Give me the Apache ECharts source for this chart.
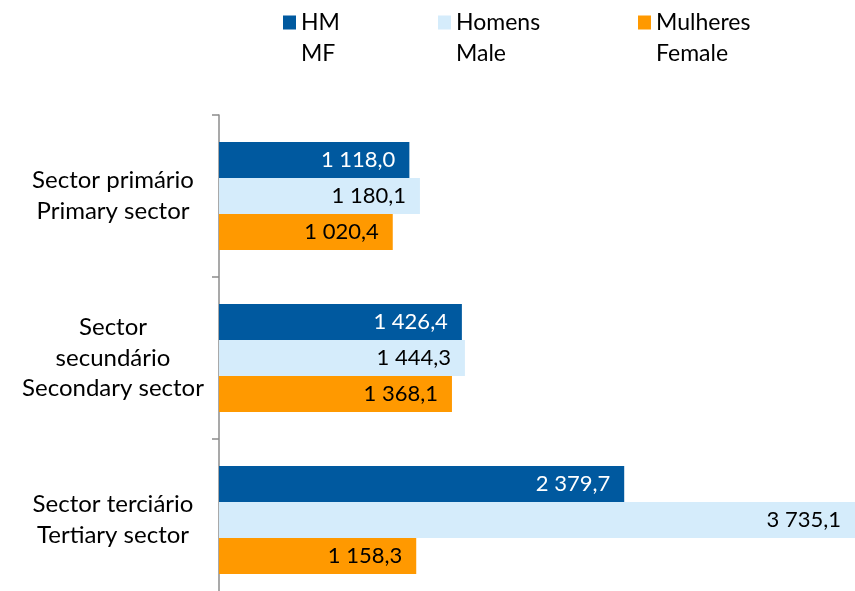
<!DOCTYPE html>
<html>
<head>
<meta charset="utf-8">
<script src="https://cdn.jsdelivr.net/npm/echarts@6/dist/echarts.min.js"></script>
<style>
html,body{margin:0;padding:0;background:#fff;}
#chart{width:855px;height:591px;}
</style>
</head>
<body>
<div id="chart"></div>
<script>
var categories = ['Sector primário\nPrimary sector', 'Sector\nsecundário\nSecondary sector', 'Sector terciário\nTertiary sector'];
var seriesNames = ['HM\nMF', 'Homens\nMale', 'Mulheres\nFemale'];
var hmValues = [1118.0, 1426.4, 2379.7];
var homensValues = [1180.1, 1444.3, 3735.1];
var mulheresValues = [1020.4, 1368.1, 1158.3];
var colors = ['#00599F', '#D5ECFB', '#FF9900'];
var labelColors = ['#ffffff', '#000000', '#000000'];
var legendLefts = [283, 438, 638];

var FONT = 'Lato';

function fmt(v) {
  var s = v.toFixed(1).split('.');
  var intPart = s[0].replace(/\B(?=(\d{3})+(?!\d))/g, ' ');
  return intPart + ',' + s[1];
}

var allValues = [hmValues, homensValues, mulheresValues];

var chart = echarts.init(document.getElementById('chart'));

// square icon at the top of a taller (transparent) box, so it lines up with the first text line
var legendIcon = 'path://M0,0H13V14H0Z M0,44.98L0.01,45L0,45Z';

var legends = seriesNames.map(function (name, i) {
  return {
    data: [name],
    left: legendLefts[i],
    top: 7,
    padding: 0,
    itemWidth: 13,
    itemHeight: 45,
    icon: legendIcon,
    selectedMode: false,
    textStyle: {
      fontFamily: FONT,
      fontSize: 23,
      lineHeight: 31,
      color: '#000'
    }
  };
});

var series = seriesNames.map(function (name, i) {
  return {
    name: name,
    type: 'bar',
    data: allValues[i],
    barGap: '0%',
    barCategoryGap: '33.3%',
    itemStyle: { color: colors[i] },
    label: {
      show: true,
      position: 'insideRight',
      distance: 14,
      color: labelColors[i],
      fontFamily: FONT,
      fontSize: 22,
      formatter: function (p) { return fmt(p.value); }
    },
    emphasis: { disabled: true }
  };
});

chart.setOption({
  animation: false,
  backgroundColor: '#ffffff',
  legend: legends,
  grid: { left: 219, right: 0, top: 115, height: 486, containLabel: false, outerBoundsMode: 'none' },
  xAxis: {
    type: 'value',
    min: 0,
    max: 3735.1,
    show: false
  },
  yAxis: {
    type: 'category',
    data: categories,
    inverse: true,
    axisLine: { show: true, lineStyle: { color: '#8c8c8c', width: 1.5 } },
    axisTick: { show: true, length: 7, lineStyle: { color: '#8c8c8c', width: 1.5 } },
    axisLabel: {
      align: 'center',
      margin: 106,
      fontFamily: FONT,
      fontSize: 24,
      lineHeight: 30.5,
      color: '#000'
    },
    splitLine: { show: false }
  },
  series: series
});
</script>
</body>
</html>
